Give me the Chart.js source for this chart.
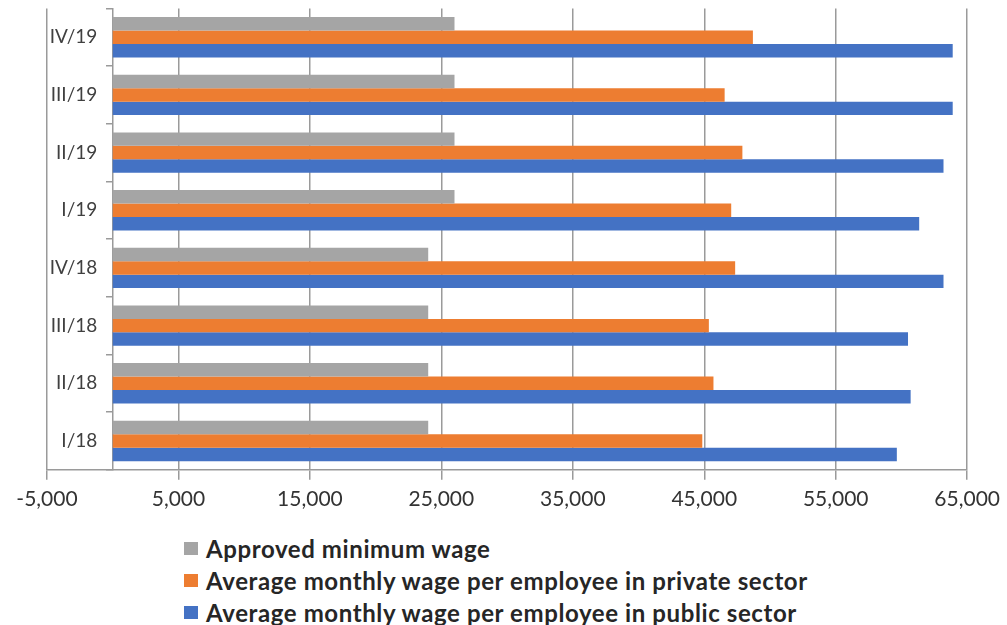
<!DOCTYPE html>
<html>
<head>
<meta charset="utf-8">
<script src="https://cdn.jsdelivr.net/npm/chart.js@4.4.1/dist/chart.umd.min.js"></script>
<style>
    html, body { margin: 0; padding: 0; background: #fff; }
    #wrap { position: relative; width: 1007px; height: 625px; overflow: hidden; }
    #chartBox { position: absolute; left: 0; top: -6px; width: 1007px; height: 531px; }
    #legend { position: absolute; left: 184px; top: 532px; font: bold 24px Lato, sans-serif; letter-spacing: 0.6px; color: #262626; }
    .item { height: 32px; display: flex; align-items: center; white-space: nowrap; }
    .box { width: 14px; height: 13px; margin-right: 8px; flex: none; }
</style>
</head>
<body>
<div id="wrap">
    <div id="chartBox"><canvas id="wageChart"></canvas></div>
    <div id="legend"></div>
</div>
<script>
// ---- data ----
const quarters = ["I/18", "II/18", "III/18", "IV/18", "I/19", "II/19", "III/19", "IV/19"];
const minWage = [24000, 24000, 24000, 24000, 26000, 26000, 26000, 26000];
const privateWage = [44850, 45700, 45350, 47350, 47050, 47900, 46550, 48700];
const publicWage = [59650, 60700, 60500, 63200, 61350, 63200, 63900, 63900];

const seriesNames = [
    "Approved minimum wage",
    "Average monthly wage per employee in private sector",
    "Average monthly wage per employee in public sector"
];
const seriesColors = ["#A5A5A5", "#ED7D31", "#4472C4"];
const xTicks = [-5000, 5000, 15000, 25000, 35000, 45000, 55000, 65000];

const gridCol = "#9a9a9a";

const datasets = [minWage, privateWage, publicWage].map((vals, i) => ({
    label: seriesNames[i],
    data: vals,
    backgroundColor: seriesColors[i],
    borderWidth: 0,
    barPercentage: 1,
    categoryPercentage: 0.7
}));

new Chart(document.getElementById("wageChart"), {
    type: "bar",
    data: { labels: quarters, datasets: datasets },
    options: {
        indexAxis: "y",
        responsive: true,
        maintainAspectRatio: false,
        animation: false,
        layout: { padding: { left: 47, right: 37, top: 0, bottom: 6 } },
        plugins: { legend: { display: false }, tooltip: { enabled: false } },
        scales: {
            x: {
                min: xTicks[0],
                max: xTicks[xTicks.length - 1],
                afterBuildTicks: axis => { axis.ticks = xTicks.map(v => ({ value: v })); },
                grid: { color: gridCol, lineWidth: 1.5, tickLength: 10 },
                border: { color: gridCol, width: 1.5 },
                ticks: {
                    padding: 7,
                    color: "#333",
                    font: { family: "Lato", size: 21 },
                    callback: v => Number(v).toLocaleString("en-US")
                }
            },
            y: {
                reverse: true,
                position: { x: 0 },
                grid: { drawOnChartArea: false, drawTicks: true, tickLength: 6, color: gridCol, lineWidth: 1.5, offset: true },
                border: { color: gridCol, width: 1.5 },
                ticks: {
                    color: "#404040",
                    font: { family: "Lato", size: 19 },
                    // labels sit on the zero line, so push them off it with an em space
                    callback: function (v) { return this.getLabelForValue(v) + "\u2003\u200A"; }
                }
            }
        }
    }
});

// legend, stacked like the original
const legendEl = document.getElementById("legend");
seriesNames.forEach((name, i) => {
    const row = document.createElement("div");
    row.className = "item";
    row.innerHTML = `<span class="box" style="background:${seriesColors[i]}"></span><span>${name}</span>`;
    legendEl.appendChild(row);
});
</script>
</body>
</html>
